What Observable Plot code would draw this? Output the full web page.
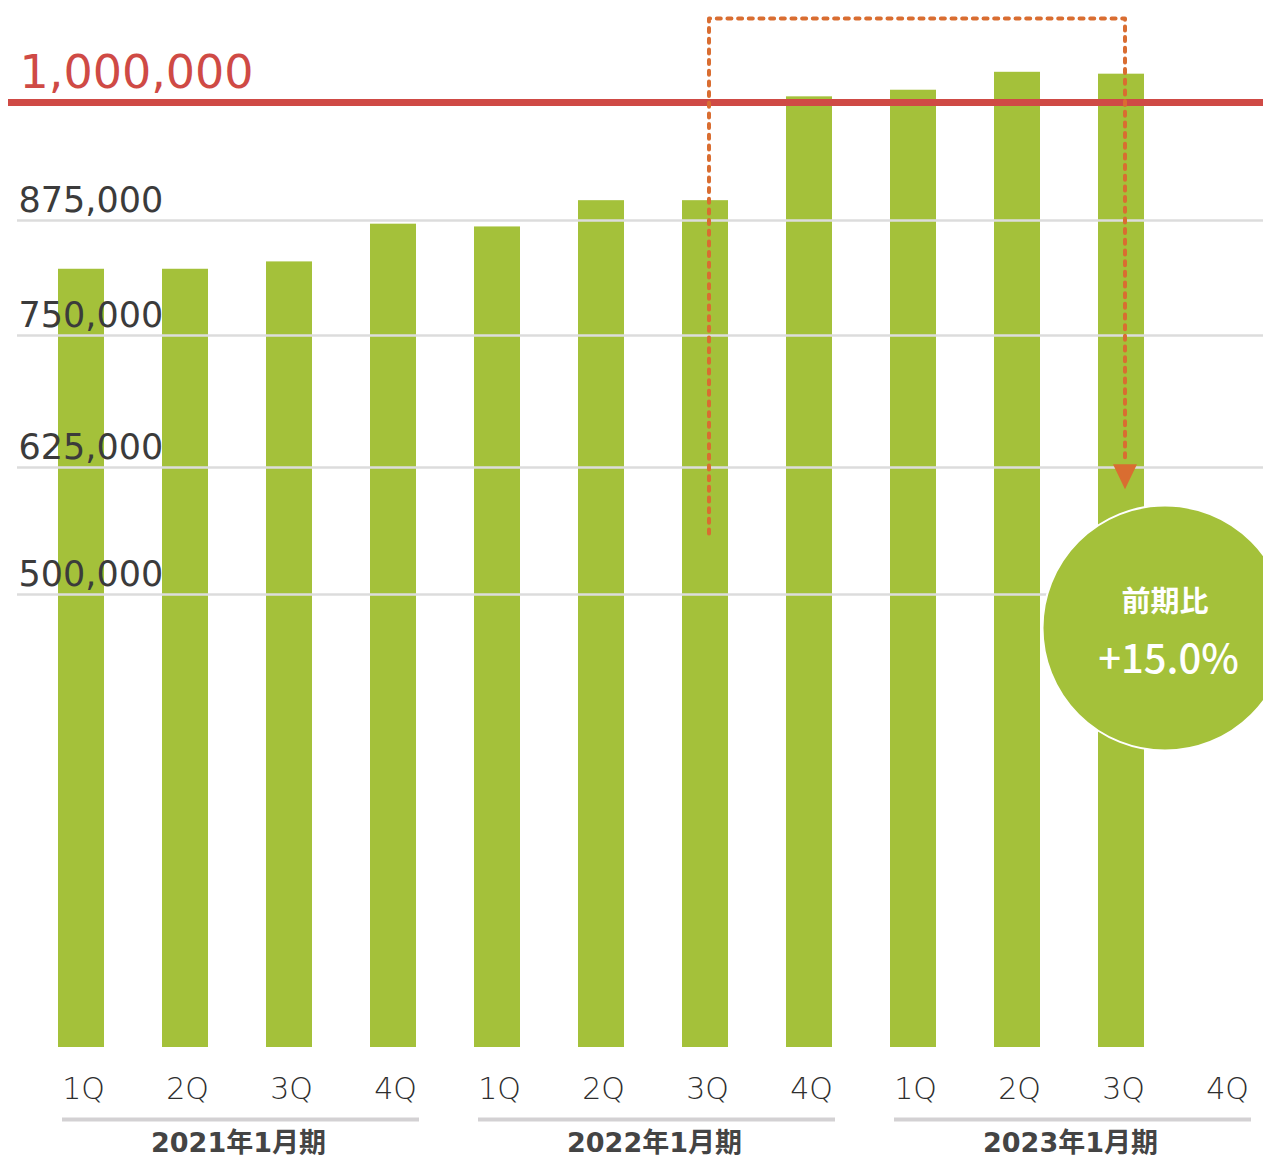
<!DOCTYPE html>
<html><head><meta charset="utf-8">
<script src="https://cdn.jsdelivr.net/npm/d3@7"></script>
<script src="https://cdn.jsdelivr.net/npm/@observablehq/plot@0.6"></script>
<style>html,body{margin:0;padding:0;background:#fff;overflow:hidden} svg{display:block}</style>
</head><body><div id="chart"></div>
<script>
// ---- data ----
const fiscalYears = ["2021年1月期", "2022年1月期", "2023年1月期"];
const quarterNames = ["1Q", "2Q", "3Q", "4Q"];
const values = [822000, 822000, 830000, 871000, 868000, 896000, 896000, 1006000, 1013000, 1032000, 1030000, null];
const gridTicks = [500000, 625000, 750000, 875000];
const targetValue = 1000000;
const compareFrom = ["2022年1月期", "3Q"];
const compareTo = ["2023年1月期", "3Q"];
const bracketValues = [560000, 1089000, 1089000, 632000]; // annotation path levels
const arrowValue = 616000;
const badgeValue = 463000;
const badgeLabel = "前期比";
const badgeGrowth = "+15.0%";

// ---- build ----
const keyOf = (fy, q) => fy + "-" + q;
const rows = fiscalYears.flatMap((fy, i) => quarterNames.map((q, j) => ({
  fy, q, key: keyOf(fy, q), value: values[i * 4 + j]
})));
const keys = rows.map(d => d.key);
const fromKey = keyOf(...compareFrom), toKey = keyOf(...compareTo);
const bracket = [
  {key: fromKey, v: bracketValues[0]},
  {key: fromKey, v: bracketValues[1]},
  {key: toKey, v: bracketValues[2]},
  {key: toKey, v: bracketValues[3]}
];
const groups = fiscalYears.map(fy => ({fy, first: keyOf(fy, "1Q"), last: keyOf(fy, "4Q"), mid: keyOf(fy, "2Q")}));

const GREEN = "#a4c13a", RED = "#cf4a45", ORANGE = "#d96d31", TEXT = "#3b3b3b";
const FONT = "'Noto Sans CJK JP', 'Noto Sans', sans-serif";
const NUMFONT = "'DejaVu Sans', 'Noto Sans CJK JP', sans-serif";
const fmt = d3.format(",");

const downTriangle = {draw(ctx) { ctx.moveTo(-12, -12.5); ctx.lineTo(12, -12.5); ctx.lineTo(0, 12.5); ctx.closePath(); }};

const chart = Plot.plot({
  width: 1263, height: 1156,
  marginLeft: 8, marginRight: 0, marginTop: 0, marginBottom: 109,
  style: {fontFamily: FONT, background: "#fff", overflow: "hidden"},
  x: {type: "band", domain: keys, range: [29, 1277], paddingInner: 0.558, paddingOuter: 0.279, align: 0.5, axis: null},
  y: {type: "linear", domain: [0, 500000, 625000, 750000, 875000, 1000000], range: [1047, 594, 467, 335, 220, 102], axis: null},
  marks: [
    Plot.barY(rows.filter(d => d.value != null), {x: "key", y: "value", fill: GREEN}),
    Plot.ruleY(gridTicks, {stroke: "#dcdcdc", strokeWidth: 2.5, insetLeft: 9}),
    Plot.text(gridTicks, {y: d => d, text: d => fmt(d), frameAnchor: "left", textAnchor: "start", lineAnchor: "bottom", dx: 10, dy: -9, fontSize: 35, fontFamily: NUMFONT, fill: TEXT}),
    Plot.ruleY([targetValue], {stroke: RED, strokeWidth: 7}),
    Plot.text([targetValue], {y: d => d, text: d => fmt(d), frameAnchor: "left", textAnchor: "start", lineAnchor: "bottom", dx: 11, dy: -15, fontSize: 46, fontFamily: NUMFONT, fill: RED}),
    Plot.line(bracket, {x: "key", y: "v", stroke: ORANGE, strokeWidth: 4, strokeDasharray: "4,6.67", dx: 3.5, curve: "linear"}),
    Plot.dot([{key: toKey, v: arrowValue}], {x: "key", y: "v", symbol: downTriangle, r: 10, fill: ORANGE, stroke: "none", dx: 3.5}),
    Plot.dot([{key: toKey, v: badgeValue}], {x: "key", y: "v", r: 122.5, fill: GREEN, stroke: "#fff", strokeWidth: 2, dx: 43.5}),
    Plot.text([{key: toKey, v: badgeValue, t: badgeLabel}], {x: "key", y: "v", text: "t", dx: 43.5, dy: -25, fontSize: 29, fontWeight: "bold", fill: "#fff"}),
    Plot.text([{key: toKey, v: badgeValue, t: badgeGrowth}], {x: "key", y: "v", text: "t", dx: 47, dy: 32, fontSize: 40, fontWeight: 500, fill: "#fff"}),
    Plot.text(rows, {x: "key", text: "q", frameAnchor: "bottom", lineAnchor: "bottom", dy: 51, dx: 2, fontSize: 30, fontFamily: NUMFONT, fill: "#2e2e2e", fontWeight: 200}),
    Plot.ruleY(groups, {x1: "first", x2: "last", y: () => 0, dy: 72, stroke: "#d3d1d3", strokeWidth: 4, insetLeft: 4, insetRight: -3}),
    Plot.text(groups, {x: "mid", text: "fy", frameAnchor: "bottom", lineAnchor: "bottom", dx: 53, dy: 104, fontSize: 27, fontWeight: "bold", fontFamily: NUMFONT, fill: "#444"})
  ]
});
document.getElementById("chart").appendChild(chart);
</script>
</body></html>
